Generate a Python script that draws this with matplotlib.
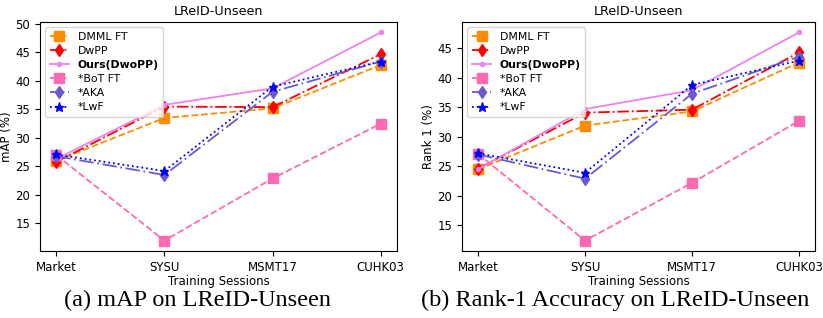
import matplotlib
matplotlib.use("Agg")
import matplotlib.pyplot as plt

# ── Data ──────────────────────────────────────────────────────────────────────
sessions = ["Market", "SYSU", "MSMT17", "CUHK03"]
methods = ["DMML FT", "DwPP", "Ours(DwoPP)", "*BoT FT", "*AKA", "*LwF"]

map_dmml = [26.0, 33.5, 35.2, 42.8]
map_dwpp = [25.8, 35.5, 35.4, 44.7]
map_ours = [26.3, 35.8, 38.7, 48.5]
map_bot = [27.0, 12.0, 22.9, 32.5]
map_aka = [26.8, 23.5, 38.1, 43.4]
map_lwf = [27.1, 24.2, 39.0, 43.4]

r1_dmml = [24.5, 31.9, 34.3, 42.6]
r1_dwpp = [24.6, 34.1, 34.6, 44.3]
r1_ours = [24.5, 34.7, 37.9, 47.7]
r1_bot = [27.1, 12.4, 22.2, 32.7]
r1_aka = [27.0, 22.9, 37.3, 43.6]
r1_lwf = [27.2, 23.9, 38.8, 42.9]

# ── Styles ────────────────────────────────────────────────────────────────────
styles = [
    dict(color="darkorange", ls="--", marker="s", ms=6.5),
    dict(color="red", ls="-.", marker="d", ms=6.5),
    dict(color="violet", ls="-", marker=".", ms=6),
    dict(color="hotpink", ls="--", marker="s", ms=6.5),
    dict(color="slateblue", ls=(0, (8, 2, 1, 2)), marker="d", ms=6.5),
    dict(color="blue", ls=":", marker="*", ms=6.5),
]

fig = plt.figure(figsize=(8.23, 3.18), dpi=100)
ax1 = fig.add_axes([0.0486, 0.2107, 0.4338, 0.720])
ax2 = fig.add_axes([0.5614, 0.2107, 0.4289, 0.720])


def panel(ax, series, ylabel):
    x = range(len(sessions))
    for name, ys, st in zip(methods, series, styles):
        ax.plot(x, ys, label=name, lw=1.3, **st)
    ax.set_xticks(list(x))
    ax.set_xticklabels(sessions, fontsize=8.5)
    ax.tick_params(axis="y", labelsize=8.5)
    ax.set_xlabel("Training Sessions", fontsize=8.5, labelpad=1)
    ax.set_ylabel(ylabel, fontsize=8.5, labelpad=2)
    ax.set_title("LReID-Unseen", fontsize=9.2, pad=5)
    leg = ax.legend(loc="upper left", fontsize=7.8, handlelength=1.8,
                    labelspacing=0.38, borderpad=0.4, framealpha=0.8)
    leg.get_texts()[2].set_fontweight("bold")


panel(ax1, [map_dmml, map_dwpp, map_ours, map_bot, map_aka, map_lwf], "mAP (%)")
panel(ax2, [r1_dmml, r1_dwpp, r1_ours, r1_bot, r1_aka, r1_lwf], "Rank 1 (%)")

fig.text(0.240, 0.055, "(a) mAP on LReID-Unseen", fontsize=17.5,
         family="Liberation Serif", ha="center", va="center")
fig.text(0.747, 0.055, "(b) Rank-1 Accuracy on LReID-Unseen", fontsize=17.5,
         family="Liberation Serif", ha="center", va="center")

fig.savefig("out.png", dpi=100)
